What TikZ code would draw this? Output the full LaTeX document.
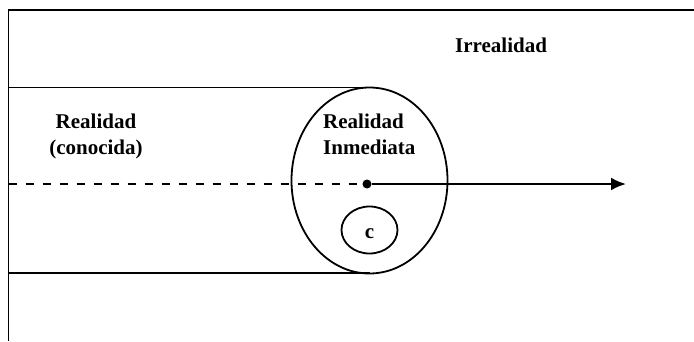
\documentclass[tikz,border=0pt]{standalone}
\usepackage{fontspec}
\setmainfont{Liberation Serif}
\usetikzlibrary{arrows.meta,shapes.geometric}

\tikzset{
  lbl/.style={font=\fontsize{21}{26}\selectfont\bfseries, inner sep=0pt},
  ln/.style={line width=1.8pt}
}

\begin{document}
\begin{tikzpicture}[x=1pt,y=1pt]
  \useasboundingbox (0,0) rectangle (694,341);
  % outer frame, open at the bottom and the right
  \draw[ln] (8.5,0) -- (8.5,331) -- (694,331);
  % the band of known reality
  \draw[ln] (8.5,253.5) -- (369.5,253.5);
  \draw[ln] (8.5,68) -- (369.5,68);
  \draw[ln] (369.5,160.5) ellipse (78 and 93);
  \node[draw, ln, ellipse, minimum width=56pt, minimum height=47pt, inner sep=0pt]
    (ccirc) at (369.5,111) {};
  \node[lbl, yshift=-4pt] at (ccirc) {c};
  % present moment and time line
  \node[circle, fill, inner sep=0pt, minimum size=9pt] (now) at (367,157) {};
  \coordinate (past) at (8.5,157);
  \coordinate (future) at (626,157);
  \draw[ln, dash pattern=on 8pt off 9pt] (past) -- (now);
  \draw[line width=2.2pt, -{Latex[length=15pt,width=13pt]}] (now) -- (future);
  % labels
  \node[lbl, anchor=base west] (irreal) at (455,289) {Irrealidad};
  \node[lbl, anchor=north, align=center] (realcon) at (96,227.3) {Realidad\\(conocida)};
  \node[lbl, anchor=north west, align=left] (realinm) at (323,227.3) {Realidad\\Inmediata};
\end{tikzpicture}
\end{document}
